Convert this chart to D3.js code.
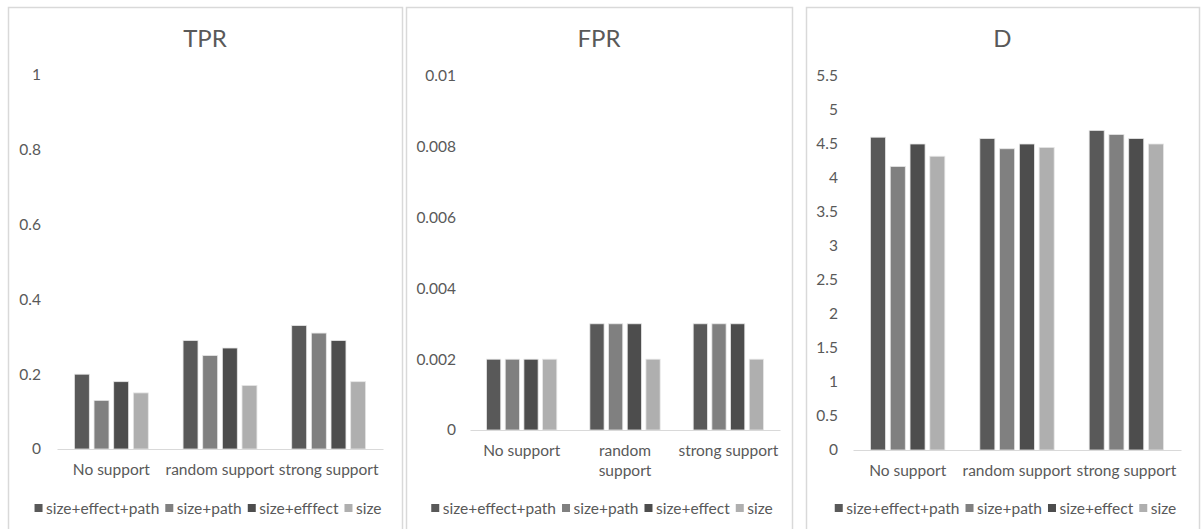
<!DOCTYPE html>
<html>
<head>
<meta charset="utf-8">
<script src="https://cdn.jsdelivr.net/npm/d3@7/dist/d3.min.js"></script>
<style>
  html, body { margin: 0; padding: 0; background: #ffffff; }
  svg { display: block; }
  text { font-family: Lato, "Open Sans", sans-serif; fill: #595959; }
</style>
</head>
<body>
<svg id="chart" width="1201" height="529"></svg>
<script>
// Conditions on the x axis
const categories = ["No support", "random support", "strong support"];

// Series names (as written in each panel's legend)
const tprSeries = ["size+effect+path", "size+path", "size+efffect", "size"];
const fprSeries = ["size+effect+path", "size+path", "size+effect", "size"];
const dSeries   = ["size+effect+path", "size+path", "size+effect", "size"];

// Values per series, one entry per category
const tprValues = [
  [0.20, 0.29, 0.33],
  [0.13, 0.25, 0.31],
  [0.18, 0.27, 0.29],
  [0.15, 0.17, 0.18]
];
const fprValues = [
  [0.002, 0.003, 0.003],
  [0.002, 0.003, 0.003],
  [0.002, 0.003, 0.003],
  [0.002, 0.002, 0.002]
];
const dValues = [
  [4.60, 4.58, 4.70],
  [4.17, 4.43, 4.64],
  [4.50, 4.50, 4.58],
  [4.32, 4.45, 4.50]
];

// Axis ticks
const tprTicks = [0, 0.2, 0.4, 0.6, 0.8, 1];
const fprTicks = [0, 0.002, 0.004, 0.006, 0.008, 0.01];
const dTicks = [0, 0.5, 1, 1.5, 2, 2.5, 3, 3.5, 4, 4.5, 5, 5.5];

const seriesColors = ["#595959", "#808080", "#4d4d4d", "#afafaf"];

const svg = d3.select("#chart");

const panels = [
  { title: "TPR", series: tprSeries, values: tprValues, ticks: tprTicks, max: 1,
    box: [8, 402], plotX: [57, 383], plotY: [75, 449], tickRight: 41, wrap: 200 },
  { title: "FPR", series: fprSeries, values: fprValues, ticks: fprTicks, max: 0.01,
    box: [406, 792], plotX: [470, 780], plotY: [76, 430], tickRight: 456, wrap: 104 },
  { title: "D", series: dSeries, values: dValues, ticks: dTicks, max: 5.5,
    box: [806, 1199], plotX: [853, 1181], plotY: [76, 450], tickRight: 838, wrap: 200 }
];

panels.forEach(p => {
  const g = svg.append("g");

  // panel frame
  g.append("rect")
    .attr("x", p.box[0] + 0.5).attr("y", 7.5)
    .attr("width", p.box[1] - p.box[0]).attr("height", 540)
    .attr("fill", "#ffffff").attr("stroke", "#d9d9d9").attr("stroke-width", 1.5);

  const cx = (p.box[0] + p.box[1]) / 2;
  g.append("text")
    .attr("x", cx).attr("y", 47)
    .attr("text-anchor", "middle")
    .style("font-size", "24px")
    .text(p.title);

  const x = d3.scaleBand().domain(categories).range(p.plotX).padding(0);
  const y = d3.scaleLinear().domain([0, p.max]).range([p.plotY[1], p.plotY[0]]);
  const groupW = x.bandwidth() * 0.68;
  const xs = d3.scaleBand().domain(d3.range(p.series.length))
    .range([0, groupW]).paddingInner(0.24);

  // value axis labels
  const yAxis = d3.axisLeft(y).tickValues(p.ticks).tickSize(0).tickPadding(0)
    .tickFormat(d => String(+d.toFixed(4)));
  const ya = g.append("g").attr("transform", `translate(${p.tickRight},0)`).call(yAxis);
  ya.select(".domain").remove();
  ya.selectAll("text").style("font-size", "15.5px").attr("fill", "#595959")
    .style("font-family", "Lato, 'Open Sans', sans-serif");

  // bars
  p.series.forEach((s, si) => {
    g.append("g").selectAll("rect")
      .data(p.values[si])
      .join("rect")
      .attr("x", (d, ci) => x(categories[ci]) + (x.bandwidth() - groupW) / 2 + xs(si))
      .attr("y", d => y(d))
      .attr("width", xs.bandwidth())
      .attr("height", d => y(0) - y(d))
      .attr("fill", seriesColors[si])
      .attr("stroke", "#e6e6e6").attr("stroke-width", 0.8);
  });

  // category axis
  const xAxis = d3.axisBottom(x).tickSize(0).tickPadding(0);
  const xa = g.append("g").attr("transform", `translate(0,${p.plotY[1]})`).call(xAxis);
  xa.select(".domain").attr("stroke", "#d9d9d9").attr("stroke-width", 1.2);
  xa.selectAll("text").style("font-size", "15.5px").attr("fill", "#595959")
    .style("font-family", "Lato, 'Open Sans', sans-serif")
    .attr("y", 0).attr("dy", null)
    .each(function(d) {
      const t = d3.select(this);
      t.text(null);
      const probe = t.append("tspan").text(d);
      const w = probe.node().getComputedTextLength();
      probe.remove();
      const lines = w > p.wrap ? d.split(" ") : [d];
      lines.forEach((ln, li) => {
        t.append("tspan").attr("x", 0).attr("y", 25.5 + li * 20).text(ln);
      });
    });

  // legend
  const lg = g.append("g");
  let lx = 0;
  p.series.forEach((s, si) => {
    const item = lg.append("g").attr("transform", `translate(${lx},0)`);
    item.append("rect").attr("x", 0).attr("y", -4).attr("width", 8).attr("height", 8)
      .attr("fill", seriesColors[si]);
    const t = item.append("text").attr("x", 11.5).attr("y", 5.5)
      .style("font-size", "15.5px").text(s);
    lx += 11.5 + t.node().getComputedTextLength() + 6;
  });
  const legendW = lx - 6;
  lg.attr("transform", `translate(${cx - legendW / 2 + 3},508)`);
});
</script>
</body>
</html>
